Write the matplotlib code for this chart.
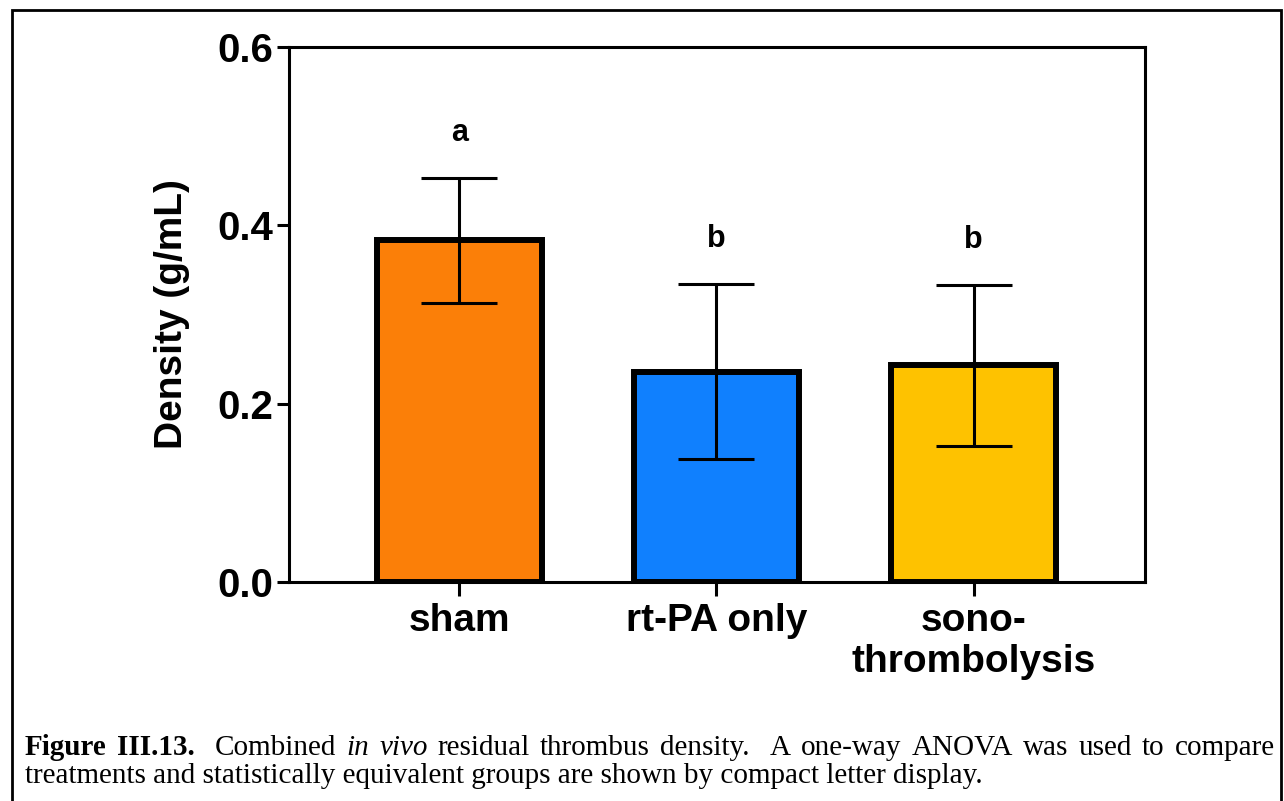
import numpy as np
import matplotlib.pyplot as plt
from matplotlib.patches import Rectangle

# dane
groups = ["sham", "rt-PA only", "sono-\nthrombolysis"]
density = [0.383, 0.236, 0.243]
err = [0.070, 0.098, 0.090]
letters = ["a", "b", "b"]
colors = ["#FB7F08", "#1080FE", "#FEC200"]

plt.rcParams['font.family'] = ['Liberation Sans', 'DejaVu Sans']
plt.rcParams['font.weight'] = 'bold'

fig = plt.figure(figsize=(12.84, 8.01), dpi=100)
ax = fig.add_axes([289 / 1284, 1 - 582 / 801, (1145 - 289) / 1284, (582 - 47) / 801])

x = np.arange(len(groups))
ax.bar(x, density, width=0.642, color=colors, edgecolor='black', linewidth=4.3, zorder=2)
ax.errorbar(x, density, yerr=err, fmt='none', ecolor='black', elinewidth=2.2,
            capsize=27.5, capthick=2.2, zorder=3)

for xi, m, e, lab in zip(x, density, err, letters):
    ax.text(xi, m + e + 0.042, lab, ha='center', va='baseline', fontsize=22, fontweight='bold')

ax.set_xlim(-0.663, 2.667)
ax.set_ylim(0, 0.6)
ax.set_yticks([0.0, 0.2, 0.4, 0.6])
ax.set_yticklabels(["0.0", "0.2", "0.4", "0.6"])
ax.set_xticks(x)
ax.set_xticklabels(groups, fontsize=28, fontweight='bold', linespacing=1.2)
ax.tick_params(axis='y', labelsize=29, width=2.2, length=9, pad=2)
ax.tick_params(axis='x', width=2.2, length=10, pad=5)
for s in ax.spines.values():
    s.set_linewidth(2.2)
ax.set_ylabel("Density (g/mL)", fontsize=28, fontweight='bold', labelpad=20)

# ramka wokół rysunku
fig.patches.append(Rectangle((12 / 1284, -0.05), (1281 - 12) / 1284, 1 - 10 / 801 + 0.05,
                             transform=fig.transFigure, fill=False, edgecolor='black',
                             linewidth=2.0))

# podpis (pierwsza linia wyjustowana)
serif = ['Liberation Serif', 'DejaVu Serif']
cap_size = 21
line1 = [("Figure", 'bold', 'normal', 1), ("III.13.", 'bold', 'normal', 2),
         ("Combined", 'normal', 'normal', 1), ("in", 'normal', 'italic', 1),
         ("vivo", 'normal', 'italic', 1), ("residual", 'normal', 'normal', 1),
         ("thrombus", 'normal', 'normal', 1), ("density.", 'normal', 'normal', 2),
         ("A", 'normal', 'normal', 1), ("one-way", 'normal', 'normal', 1),
         ("ANOVA", 'normal', 'normal', 1), ("was", 'normal', 'normal', 1),
         ("used", 'normal', 'normal', 1), ("to", 'normal', 'normal', 1),
         ("compare", 'normal', 'normal', 0)]
x_left, x_right = 25, 1275
y1 = 1 - 755 / 801
renderer = fig.canvas.get_renderer()
texts, widths = [], []
for word, w, st, _ in line1:
    t = fig.text(0, y1, word, family=serif, fontsize=cap_size, fontweight=w, style=st,
                 va='baseline', ha='left')
    texts.append(t)
    widths.append(t.get_window_extent(renderer).width)
gap_units = sum(g for *_, g in line1)
gap = (x_right - x_left - sum(widths)) / gap_units
pos = x_left
for t, wd, (_, _, _, g) in zip(texts, widths, line1):
    t.set_x(pos / 1284)
    pos += wd + g * gap

fig.text(x_left / 1284, 1 - 783 / 801,
         "treatments and statistically equivalent groups are shown by compact letter display.",
         family=serif, fontsize=cap_size, fontweight='normal', va='baseline')

fig.savefig("out.png", dpi=100)
